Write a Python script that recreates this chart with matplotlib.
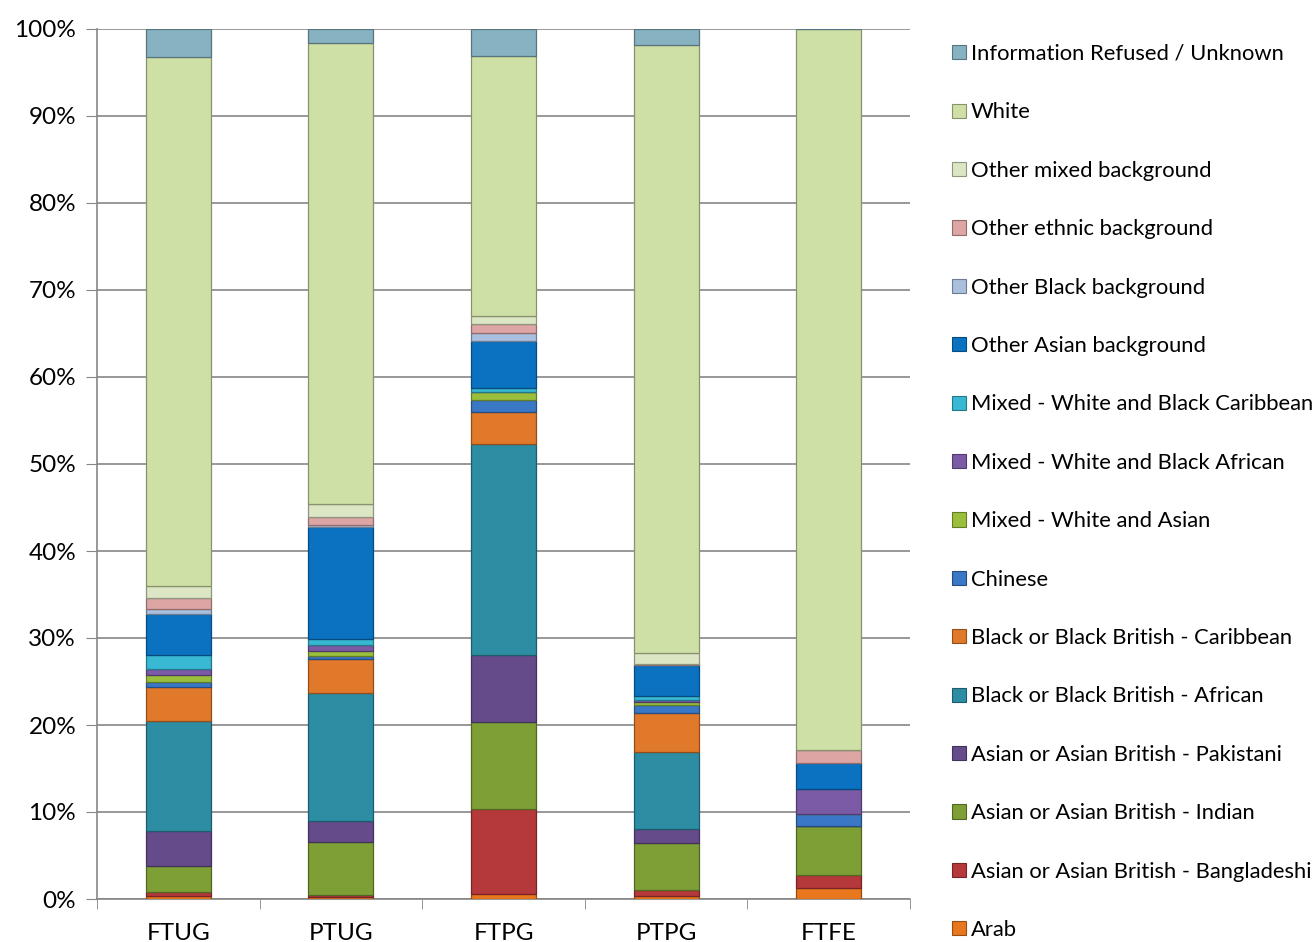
import numpy as np
import matplotlib as mpl
mpl.use("Agg")
import matplotlib.pyplot as plt
from matplotlib.patches import Patch
from matplotlib.colors import to_rgb

mpl.rcParams.update({
    "font.family": ["Lato", "DejaVu Sans"],
    "font.size": 15.8,
})

# --- data (percent of each category), stacked bottom -> top -----------------
categories = ["FTUG", "PTUG", "FTPG", "PTPG", "FTFE"]
series = [
    "Arab",
    "Asian or Asian British - Bangladeshi",
    "Asian or Asian British - Indian",
    "Asian or Asian British - Pakistani",
    "Black or Black British - African",
    "Black or Black British - Caribbean",
    "Chinese",
    "Mixed - White and Asian",
    "Mixed - White and Black African",
    "Mixed - White and Black Caribbean",
    "Other Asian background",
    "Other Black background",
    "Other ethnic background",
    "Other mixed background",
    "White",
    "Information Refused / Unknown",
]
ftug = [0.3, 0.55, 3.0, 4.0, 12.6, 3.9, 0.6, 0.75, 0.75, 1.6, 4.7, 0.6, 1.2, 1.4, 60.8, 3.25]
ptug = [0.2, 0.3, 6.1, 2.4, 14.7, 3.85, 0.4, 0.5, 0.8, 0.6, 12.9, 0.2, 1.0, 1.4, 53.05, 1.6]
ftpg = [0.55, 9.85, 9.9, 7.7, 24.35, 3.65, 1.35, 0.9, 0.0, 0.5, 5.4, 0.9, 1.0, 1.0, 29.9, 3.05]
ptpg = [0.3, 0.7, 5.4, 1.65, 8.9, 4.4, 0.9, 0.4, 0.2, 0.45, 3.55, 0.0, 0.2, 1.25, 69.9, 1.8]
ftfe = [1.25, 1.5, 5.6, 0.0, 0.0, 0.0, 1.45, 0.0, 2.9, 0.0, 2.9, 0.0, 1.5, 0.0, 82.9, 0.0]

colors = [
    "#E8771E", "#B5383A", "#7E9F36", "#664B8A", "#2C8DA3", "#E0792A",
    "#3A77C4", "#99BF3C", "#7B5AA6", "#38B8D2", "#0B72C2", "#A9BFDD",
    "#DDA6A5", "#DCE6C4", "#CFE0A6", "#87B2C2",
]

values = np.array([ftug, ptug, ftpg, ptpg, ftfe]).T  # series x category


def darker(c, f=0.65):
    r, g, b = to_rgb(c)
    return (r * f, g * f, b * f)


fig = plt.figure(figsize=(13.16, 9.42), dpi=100)
ax = fig.add_axes([97 / 1316, 1 - 899 / 942, (910 - 97) / 1316, (899 - 29) / 942])

x = np.arange(len(categories))
bottom = np.zeros(len(categories))
for vals, col in zip(values, colors):
    ax.bar(x, vals, width=0.4, bottom=bottom, color=col,
           edgecolor=darker(col), linewidth=0.9, zorder=3)
    bottom += vals

ax.set_xlim(-0.5, len(categories) - 0.5)
ax.set_ylim(0, 100)
ax.set_yticks(np.arange(0, 101, 10))
ax.set_yticklabels([f"{v}%" for v in range(0, 101, 10)], fontsize=17.5)
ax.set_xticks(x)
ax.set_xticklabels(categories, fontsize=17.5)
ax.set_xticks(np.arange(-0.5, len(categories), 1), minor=True)
ax.tick_params(axis="x", which="major", length=0, pad=17)
ax.tick_params(axis="x", which="minor", length=7, color="#868686")
ax.tick_params(axis="y", length=8, color="#868686", pad=7)
ax.yaxis.grid(True, color="#868686", linewidth=1.2, zorder=0)
for s in ["top", "right"]:
    ax.spines[s].set_visible(False)
for s in ["left", "bottom"]:
    ax.spines[s].set_color("#868686")
    ax.spines[s].set_linewidth(1.2)

handles = [Patch(facecolor=c, edgecolor=darker(c), linewidth=0.8) for c in colors]
fig.legend(handles[::-1], series[::-1], loc="upper left",
           bbox_to_anchor=(952 / 1316, 1 - 44 / 942), frameon=False,
           handlelength=0.62, handleheight=0.62, handletextpad=0.25,
           labelspacing=1.75, borderaxespad=0, borderpad=0)

fig.savefig("out.png", dpi=100)
